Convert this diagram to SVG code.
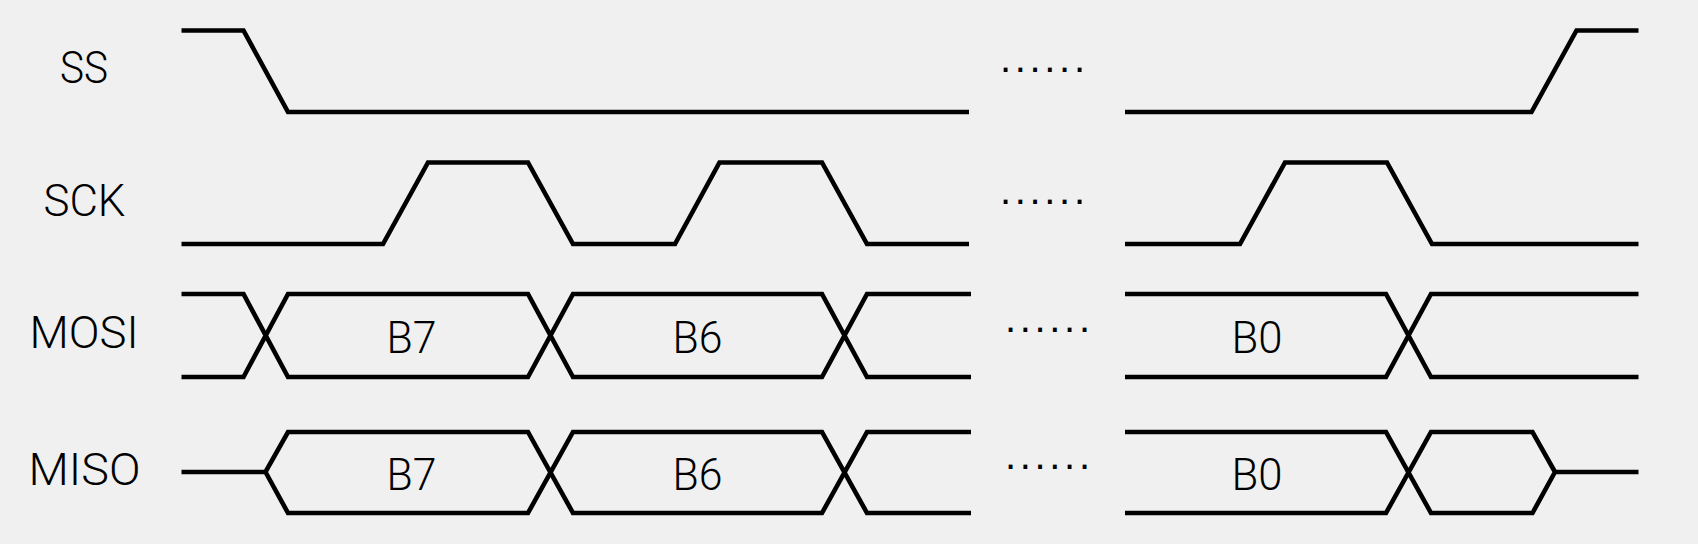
<svg xmlns="http://www.w3.org/2000/svg" width="1698" height="544" viewBox="0 0 1698 544">
<style>
.w{fill:none;stroke:#000;stroke-width:4.6;stroke-linejoin:miter;stroke-linecap:butt}
.l{font-family:Roboto,"Liberation Sans",Arial,sans-serif;font-weight:300;font-size:45px;fill:#000;text-anchor:middle}
.d{font-family:"Liberation Sans",Arial,sans-serif;font-size:40px;fill:#000;text-anchor:middle}
</style>
<rect width="1698" height="544" fill="#f0f0f0"/>
<g id="labels">
<text class="l" x="84" y="83" textLength="48" lengthAdjust="spacingAndGlyphs">SS</text>
<text class="l" x="84.5" y="216" textLength="82" lengthAdjust="spacingAndGlyphs">SCK</text>
<text class="l" x="84" y="348" textLength="109" lengthAdjust="spacingAndGlyphs">MOSI</text>
<text class="l" x="84.5" y="485" textLength="112" lengthAdjust="spacingAndGlyphs">MISO</text>
</g>
<g id="ss">
<path class="w" d="M181.5 30.5 H243.5 L288 112 H969 M1125 112 H1531.5 L1576.5 30.5 H1638.5"/>
<text class="d" x="1042.5" y="72" textLength="85">......</text>
</g>
<g id="sck">
<path class="w" d="M181.5 244 H383 L428 162.5 H528 L573 244 H675 L719.5 162.5 H822 L867 244 H969 M1125 244 H1240 L1285 162.5 H1387 L1432 244 H1638.5"/>
<text class="d" x="1042.5" y="204" textLength="85">......</text>
</g>
<g id="mosi">
<path class="w" d="M181.5 294 H243.5 L288 377 H528 L573 294 H822 L867 377 H971 M181.5 377 H243.5 L288 294 H528 L573 377 H822 L867 294 H971 M1125 294 H1386 L1431 377 H1638.5 M1125 377 H1386 L1431 294 H1638.5"/>
<text class="l" x="411.5" y="353" textLength="50" lengthAdjust="spacingAndGlyphs">B7</text>
<text class="l" x="697.5" y="353" textLength="50" lengthAdjust="spacingAndGlyphs">B6</text>
<text class="l" x="1257" y="353" textLength="51" lengthAdjust="spacingAndGlyphs">B0</text>
<text class="d" x="1047.5" y="332" textLength="85">......</text>
</g>
<g id="miso">
<path class="w" d="M181.5 472 H265.5 L288 432 H528 L573 513 H822 L867 432 H971 M265.5 472 L288 513 H528 L573 432 H822 L867 513 H971 M1125 432 H1386 L1431 513 H1532.5 L1555 472 H1638.5 M1125 513 H1386 L1431 432 H1532.5 L1555 472"/>
<text class="l" x="411.5" y="490" textLength="50" lengthAdjust="spacingAndGlyphs">B7</text>
<text class="l" x="697.5" y="490" textLength="50" lengthAdjust="spacingAndGlyphs">B6</text>
<text class="l" x="1257" y="490" textLength="51" lengthAdjust="spacingAndGlyphs">B0</text>
<text class="d" x="1047.5" y="469" textLength="85">......</text>
</g>
</svg>
